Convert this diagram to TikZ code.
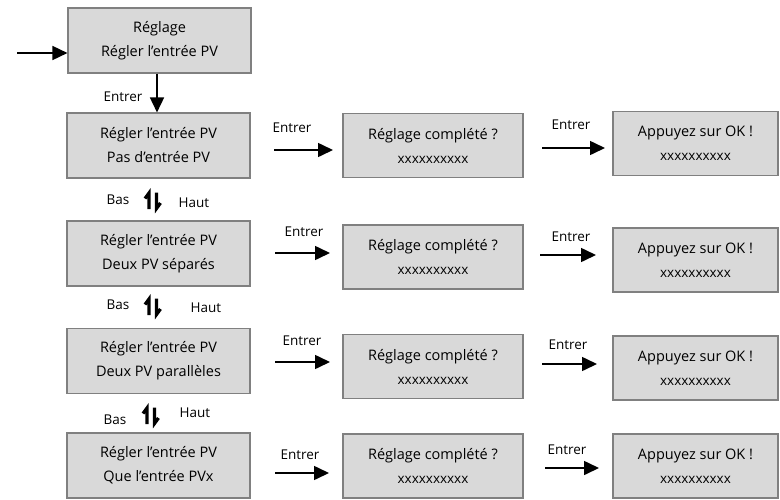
\documentclass[tikz,border=0pt]{standalone}
\usepackage{fontspec}
\setmainfont{Open Sans}
\usetikzlibrary{arrows.meta}
\definecolor{boxfill}{HTML}{D9D9D9}
\definecolor{boxline}{HTML}{808080}
\tikzset{
  box/.style={draw=boxline, fill=boxfill, line width=1.1pt, align=center,
    font=\fontsize{14.5}{24}\selectfont, inner sep=0pt},
  lbox/.style={box, minimum width=183pt, minimum height=65pt},
  mbox/.style={box, minimum width=180pt, minimum height=64pt},
  rbox/.style={box, minimum width=165pt, minimum height=64pt},
  conn/.style={line width=1.6pt, -{Triangle[length=15pt,width=14pt]}},
  lab/.style={font=\fontsize{13.5}{15}\selectfont, inner sep=0pt},
  updownharp/.pic={
    \draw[line width=3.2pt, line join=miter] (0,5.5) -- (4,0) -- (4,16);
    \draw[line width=3.2pt, line join=miter] (11.5,-0.5) -- (11.5,15.5) -- (15.5,10);
  }
}
\newcommand{\xx}{{\fontsize{13.5}{12}\selectfont xxxxxxxxxx}}
\begin{document}
\begin{tikzpicture}[x=1pt,y=-1pt]
\useasboundingbox (0,0) rectangle (780,499);
% left column
\node[lbox] (b0) at (159.5,40.5) {Réglage\\Régler l'entrée PV};
\node[lbox] (l1) at (158.5,145.5) {Régler l'entrée PV\\Pas d’entrée PV};
\node[lbox] (l2) at (158.5,253.5) {Régler l'entrée PV\\Deux PV séparés};
\node[lbox] (l3) at (158.5,361) {Régler l'entrée PV\\Deux PV parallèles};
\node[lbox] (l4) at (158.5,465.5) {Régler l'entrée PV\\Que l’entrée PVx};
% middle column
\node[mbox] (m1) at (433,145.5) {Réglage complété ?\\\xx};
\node[mbox] (m2) at (433,257) {Réglage complété ?\\\xx};
\node[mbox] (m3) at (433,366.5) {Réglage complété ?\\\xx};
\node[mbox] (m4) at (433,466) {Réglage complété ?\\\xx};
% right column
\node[rbox] (r1) at (695.5,143.5) {Appuyez sur OK !\\\xx};
\node[rbox] (r2) at (695.5,260) {Appuyez sur OK !\\\xx};
\node[rbox] (r3) at (695.5,368) {Appuyez sur OK !\\\xx};
\node[rbox] (r4) at (695.5,466) {Appuyez sur OK !\\\xx};
% entry arrow
\coordinate (in) at (17,53);
\draw[conn] (in) -- (in -| b0.west);
% down arrow
\draw[conn] (b0.south -| 157,0) -- (l1.north -| 157,0);
\node[lab] (e0) at (123,97) {Entrer};
% row arrows
\coordinate (a1s) at (274,150); \coordinate (a1e) at (333,150);
\coordinate (a2s) at (542,148); \coordinate (a2e) at (605,148);
\draw[conn] (a1s) -- (a1e); \node[lab] (e11) at (292,128) {Entrer};
\draw[conn] (a2s) -- (a2e); \node[lab] (e12) at (571,125) {Entrer};
\coordinate (b1s) at (275,253); \coordinate (b1e) at (330,253);
\coordinate (b2s) at (540,255); \coordinate (b2e) at (596,255);
\draw[conn] (b1s) -- (b1e); \node[lab] (e21) at (304,232) {Entrer};
\draw[conn] (b2s) -- (b2e); \node[lab] (e22) at (571,237) {Entrer};
\coordinate (c1s) at (275,362); \coordinate (c1e) at (330,362);
\coordinate (c2s) at (542,364); \coordinate (c2e) at (597,364);
\draw[conn] (c1s) -- (c1e); \node[lab] (e31) at (302,341) {Entrer};
\draw[conn] (c2s) -- (c2e); \node[lab] (e32) at (568,345) {Entrer};
\coordinate (d1s) at (275,473); \coordinate (d1e) at (329,473);
\coordinate (d2s) at (545,468); \coordinate (d2e) at (599,468);
\draw[conn] (d1s) -- (d1e); \node[lab] (e41) at (300,455) {Entrer};
\draw[conn] (d2s) -- (d2e); \node[lab] (e42) at (567,450) {Entrer};
% Bas / Haut
\node[lab] (bas1) at (118,200) {Bas};
\pic at (145,193) {updownharp};
\node[lab] (haut1) at (194,203) {Haut};
\node[lab] (bas2) at (118,305) {Bas};
\pic at (145,299) {updownharp};
\node[lab] (haut2) at (206,308) {Haut};
\node[lab] (bas3) at (115,420) {Bas};
\pic at (143,408) {updownharp};
\node[lab] (haut3) at (195,413) {Haut};
\end{tikzpicture}
\end{document}
